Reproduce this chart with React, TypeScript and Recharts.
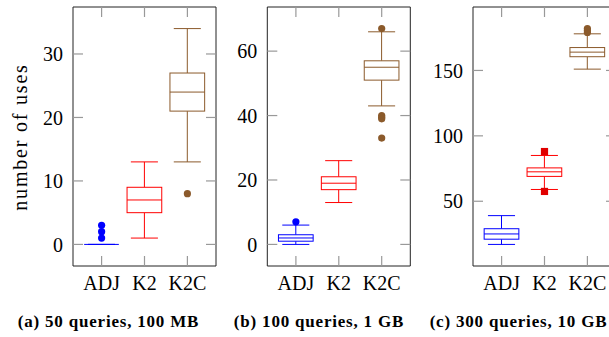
import React from 'react';
import { ComposedChart, Bar, Scatter, XAxis, YAxis } from 'recharts';

const CATEGORIES = ['ADJ', 'K2', 'K2C'];
const COLORS = ['#0000ff', '#ff0000', '#8b5a2b'];

// five-number summaries per category: [min, q1, median, q3, max]
const BOXES_A = [[0, 0, 0, 0, 0], [1, 5, 7, 9, 13], [13, 21, 24, 27, 34]];
const OUTLIERS_A = [[1, 2, 3], [], [8]];
const TICKS_A = [0, 10, 20, 30];
const DOMAIN_A = [-3.4, 37.4];

const BOXES_B = [[0, 1, 2, 3, 6], [13, 17, 19, 21, 26], [43, 51, 55, 57, 66]];
const OUTLIERS_B = [[7], [], [67, 40, 39.5, 39, 33]];
const TICKS_B = [0, 20, 40, 60];
const DOMAIN_B = [-6.7, 73.7];

const BOXES_C = [[17, 21, 25, 29, 39], [59, 69, 72.5, 75.5, 85], [151, 160.5, 164, 167.5, 178]];
const OUTLIERS_C = [[], [88, 57.5], [182, 180.5, 179]];
const TICKS_C = [50, 100, 150];
const DOMAIN_C = [0.5, 198.5];

const CAPTIONS = ['(a) 50 queries, 100 MB', '(b) 100 queries, 1 GB', '(c) 300 queries, 10 GB'];

const FONT = "'Liberation Serif', serif";
const FRAME = '#222';
const TICK_GRAY = '#999';
const TICK_LEN = 10;
const PLOT_W = 143;
const X_DOMAIN = [1 / 3, 11 / 3];

const PANELS = [
  { boxes: BOXES_A, outliers: OUTLIERS_A, ticks: TICKS_A, domain: DOMAIN_A, marks: ['circle', 'circle', 'circle'], left: 0, width: 220, axisW: 73, captionX: 108.5 },
  { boxes: BOXES_B, outliers: OUTLIERS_B, ticks: TICKS_B, domain: DOMAIN_B, marks: ['circle', 'circle', 'circle'], left: 220, width: 194, axisW: 47.3, captionX: 319 },
  { boxes: BOXES_C, outliers: OUTLIERS_C, ticks: TICKS_C, domain: DOMAIN_C, marks: ['circle', 'square', 'circle'], left: 414, width: 206, axisW: 59, captionX: 518.5 },
];

const toRows = (boxes: number[][]) =>
  boxes.map((b, i) => ({ x: i + 1, range: [b[0], b[4]], min: b[0], q1: b[1], med: b[2], q3: b[3], max: b[4], color: COLORS[i] }));

// box drawn inside the [min, max] bar rectangle, interpolating the quartiles linearly
const BoxShape = (props: any) => {
  const { x, y, width, height, payload } = props;
  const top = Math.min(y, y + height);
  const bottom = Math.max(y, y + height);
  const span = payload.max - payload.min;
  const py = (v: number) => (span > 0 ? bottom - ((v - payload.min) / span) * (bottom - top) : top);
  const cx = x + width / 2;
  const cap = width * 0.39;
  const c = payload.color;
  return (
    <g fill="none" stroke={c} strokeWidth={1}>
      <line x1={cx} x2={cx} y1={py(payload.max)} y2={py(payload.q3)} />
      <line x1={cx} x2={cx} y1={py(payload.q1)} y2={py(payload.min)} />
      <line x1={cx - cap} x2={cx + cap} y1={py(payload.max)} y2={py(payload.max)} />
      <line x1={cx - cap} x2={cx + cap} y1={py(payload.min)} y2={py(payload.min)} />
      <rect x={x} y={py(payload.q3)} width={width} height={py(payload.q1) - py(payload.q3)} fill="#fff" />
      <line x1={x} x2={x + width} y1={py(payload.med)} y2={py(payload.med)} />
    </g>
  );
};

const makeMarker = (color: string, kind: string) => (props: any) => {
  const { cx, cy } = props;
  if (kind === 'square') return <rect x={cx - 3.6} y={cy - 3.6} width={7.2} height={7.2} fill={color} />;
  return <circle cx={cx} cy={cy} r={3.6} fill={color} />;
};

const LeftTick = (props: any) => {
  const { x, y, payload } = props;
  return (
    <g>
      <line x1={x + 10} x2={x + 10 + TICK_LEN} y1={y} y2={y} stroke={TICK_GRAY} strokeWidth={1.2} />
      <text x={x} y={y} dy="0.36em" textAnchor="end" style={{ fontFamily: FONT, fontSize: 20 }} fill="#000">{payload.value}</text>
    </g>
  );
};

const RightTick = (props: any) => {
  const { x, y } = props;
  return <line x1={x - TICK_LEN} x2={x} y1={y} y2={y} stroke={TICK_GRAY} strokeWidth={1.2} />;
};

const BottomTick = (props: any) => {
  const { x, y, payload } = props;
  return (
    <g>
      <line x1={x} x2={x} y1={y - 10} y2={y - 10 - TICK_LEN} stroke={TICK_GRAY} strokeWidth={1.2} />
      <text x={x} y={y} dy="0.72em" textAnchor="middle" style={{ fontFamily: FONT, fontSize: 20 }} fill="#000">{CATEGORIES[payload.value - 1]}</text>
    </g>
  );
};

const TopTick = (props: any) => {
  const { x, y } = props;
  return <line x1={x} x2={x} y1={y} y2={y + TICK_LEN} stroke={TICK_GRAY} strokeWidth={1.2} />;
};

export default function App() {
  return (
    <div style={{ position: 'absolute', left: 0, top: 0, width: 609, height: 337, overflow: 'hidden', background: '#fff' }}>
      {PANELS.map((p, pi) => (
        <div key={pi} style={{ position: 'absolute', left: p.left, top: 0 }}>
          <ComposedChart
            width={p.width}
            height={300}
            data={toRows(p.boxes)}
            margin={{ top: 6, right: p.width - p.axisW - PLOT_W - 1, left: 0, bottom: 0 }}
          >
            <XAxis dataKey="x" type="number" domain={X_DOMAIN} ticks={[1, 2, 3]} interval={0} allowDataOverflow
              height={34} tickSize={0} tickMargin={10} tickLine={false} axisLine={{ stroke: FRAME }} tick={BottomTick} />
            <XAxis xAxisId="top" orientation="top" dataKey="x" type="number" domain={X_DOMAIN} ticks={[1, 2, 3]} interval={0} allowDataOverflow
              height={1} tickSize={0} tickMargin={0} tickLine={false} axisLine={{ stroke: FRAME }} tick={TopTick} />
            <YAxis type="number" domain={p.domain} ticks={p.ticks} interval={0} allowDataOverflow
              width={p.axisW} tickSize={0} tickMargin={10} tickLine={false} axisLine={{ stroke: FRAME }} tick={LeftTick} />
            <YAxis yAxisId="right" orientation="right" type="number" domain={p.domain} ticks={p.ticks} interval={0} allowDataOverflow
              width={1} tickSize={0} tickMargin={0} tickLine={false} axisLine={{ stroke: FRAME }} tick={RightTick} />
            <Bar dataKey="range" barSize={34.7} shape={BoxShape} isAnimationActive={false} />
            {p.outliers.map((vals, i) => (
              <Scatter
                key={i}
                data={vals.map((v) => ({ x: i + 1, y: v }))}
                dataKey="y"
                fill={COLORS[i]}
                shape={makeMarker(p.marks[i] === 'square' ? '#e00000' : COLORS[i], p.marks[i])}
                isAnimationActive={false}
              />
            ))}
          </ComposedChart>
        </div>
      ))}
      <svg width={609} height={337} style={{ position: 'absolute', left: 0, top: 0, pointerEvents: 'none' }}>
        <text x={20} y={137} transform="rotate(-90 20 137)" textAnchor="middle" dominantBaseline="central"
          style={{ fontFamily: FONT, fontSize: 20, letterSpacing: 1.8 }} fill="#000">number of uses</text>
        {PANELS.map((p, i) => (
          <text key={i} x={p.captionX} y={327} textAnchor="middle"
            style={{ fontFamily: FONT, fontSize: 17, fontWeight: 'bold', letterSpacing: 0.8 }} fill="#000">{CAPTIONS[i]}</text>
        ))}
      </svg>
    </div>
  );
}
